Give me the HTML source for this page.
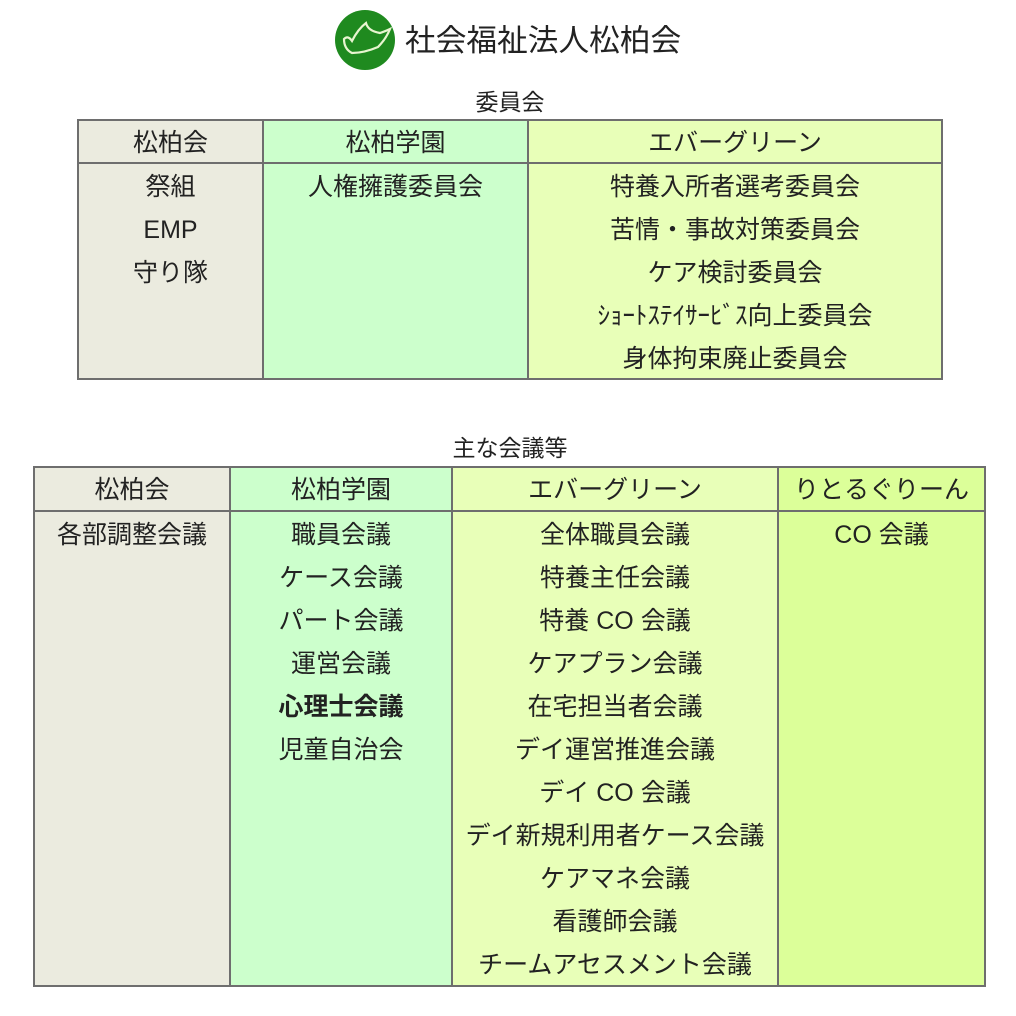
<!DOCTYPE html>
<html><head><meta charset="utf-8"><style>
body{margin:0;width:1016px;height:1016px;background:#fff;position:relative;overflow:hidden;font-family:"Liberation Sans","Noto Sans CJK JP",sans-serif;color:#222}
.c{position:absolute;box-sizing:border-box;border:2px solid #6e6e6e;text-align:center;font-size:25px}
.c div{height:43px;line-height:45px;white-space:nowrap}
.t{position:absolute;font-size:23px;text-align:center;width:200px;line-height:30px}
</style></head><body>
<svg style="position:absolute;left:334px;top:9px" width="64" height="62" viewBox="0 0 64 62">
<circle cx="31" cy="31" r="30" fill="#1f8a1f"/>
<path d="M10 30 Q14 26 18 32 Q24 20 32 14 Q34 22 46 24 Q52 22 56 20 Q52 30 44 38 Q30 44 18 44 Q10 40 10 30Z" fill="none" stroke="#e8f5d0" stroke-width="2.2"/>
</svg>
<div style="position:absolute;left:405px;top:22px;font-size:30.7px;line-height:38px;color:#222">社会福祉法人松柏会</div>
<div class="t" style="left:410px;top:87px">委員会</div>
<div class="t" style="left:410px;top:433px">主な会議等</div>

<div class="c" style="left:77px;top:119px;width:187px;height:261px;background:#ebebdf"><div>松柏会</div></div>
<div class="c" style="left:262px;top:119px;width:267px;height:261px;background:#ccffcc"><div>松柏学園</div></div>
<div class="c" style="left:527px;top:119px;width:416px;height:261px;background:#e8ffb8"><div>エバーグリーン</div></div>
<div style="position:absolute;left:77px;top:162px;width:866px;border-top:2px solid #6e6e6e"></div>
<div class="c" style="left:77px;top:165px;width:187px;border:none"><div>祭組</div><div>EMP</div><div>守り隊</div></div>
<div class="c" style="left:262px;top:165px;width:267px;border:none"><div>人権擁護委員会</div></div>
<div class="c" style="left:527px;top:165px;width:416px;border:none"><div>特養入所者選考委員会</div><div>苦情・事故対策委員会</div><div>ケア検討委員会</div><div>ｼｮｰﾄｽﾃｲｻｰﾋﾞｽ向上委員会</div><div>身体拘束廃止委員会</div></div>

<div class="c" style="left:33px;top:466px;width:198px;height:521px;background:#ebebdf"><div>松柏会</div></div>
<div class="c" style="left:229px;top:466px;width:224px;height:521px;background:#ccffcc"><div>松柏学園</div></div>
<div class="c" style="left:451px;top:466px;width:328px;height:521px;background:#e8ffb8"><div>エバーグリーン</div></div>
<div class="c" style="left:777px;top:466px;width:209px;height:521px;background:#dcff99"><div>りとるぐりーん</div></div>
<div style="position:absolute;left:33px;top:510px;width:953px;border-top:2px solid #6e6e6e"></div>
<div class="c" style="left:33px;top:513px;width:198px;border:none"><div>各部調整会議</div></div>
<div class="c" style="left:229px;top:513px;width:224px;border:none"><div>職員会議</div><div>ケース会議</div><div>パート会議</div><div>運営会議</div><div style="font-weight:bold">心理士会議</div><div>児童自治会</div></div>
<div class="c" style="left:451px;top:513px;width:328px;border:none"><div>全体職員会議</div><div>特養主任会議</div><div>特養 CO 会議</div><div>ケアプラン会議</div><div>在宅担当者会議</div><div>デイ運営推進会議</div><div>デイ CO 会議</div><div>デイ新規利用者ケース会議</div><div>ケアマネ会議</div><div>看護師会議</div><div>チームアセスメント会議</div></div>
<div class="c" style="left:777px;top:513px;width:209px;border:none"><div>CO 会議</div></div>
</body></html>
